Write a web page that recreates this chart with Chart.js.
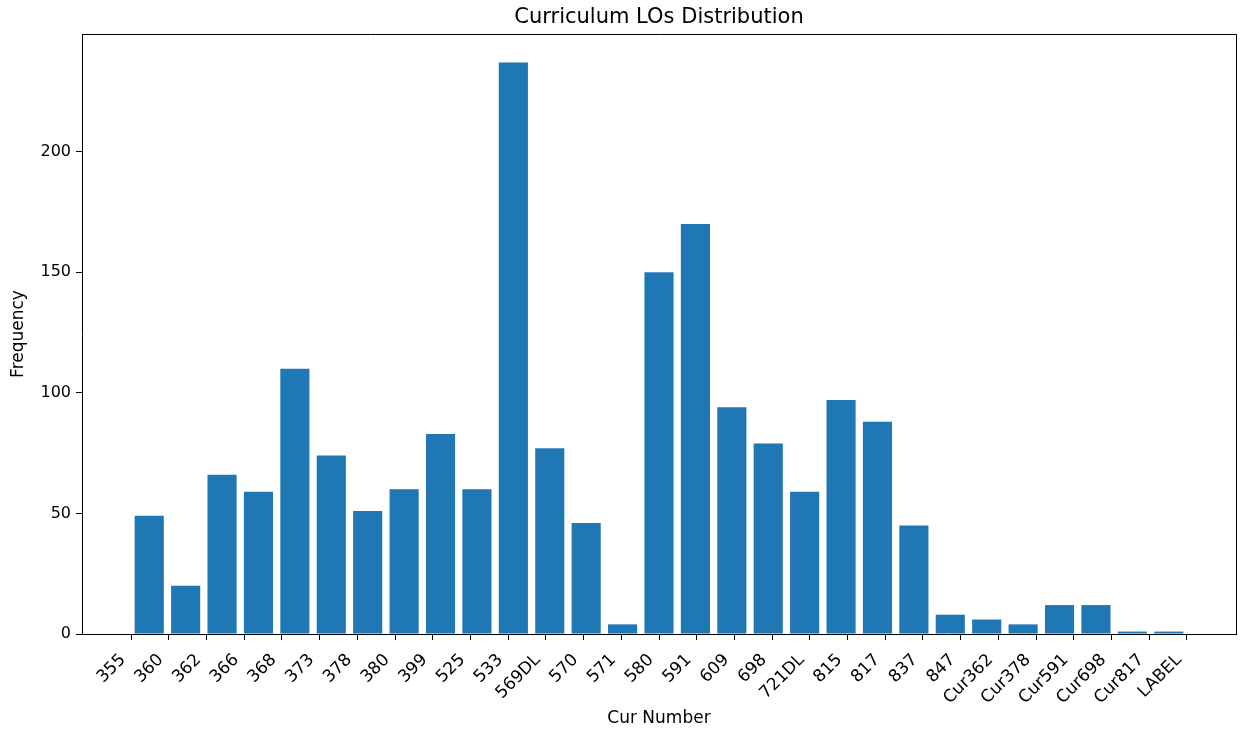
<!DOCTYPE html>
<html>
<head>
<meta charset="utf-8">
<script src="https://cdn.jsdelivr.net/npm/chart.js@4"></script>
<style>
  html, body { margin: 0; padding: 0; background: #fff; }
  canvas { display: block; }
</style>
</head>
<body>
<canvas id="myChart" width="1241" height="729"></canvas>
<script>
// categories (tick labels) and counts per bin
var curNumbers = ['355', '360', '362', '366', '368', '373', '378', '380', '399', '525',
  '533', '569DL', '570', '571', '580', '591', '609', '698', '721DL', '815',
  '817', '837', '847', 'Cur362', 'Cur378', 'Cur591', 'Cur698', 'Cur817', 'LABEL'];
var frequency = [49, 20, 66, 59, 110, 74, 51, 60, 83, 60,
  237, 77, 46, 4, 150, 170, 94, 79, 59, 97,
  88, 45, 8, 6, 4, 12, 12, 1, 1];
var yTicks = [0, 50, 100, 150, 200];

// histogram bins: the category indices 0..n-1 split into n equal bins
var n = curNumbers.length;
var binWidth = (n - 1) / n;
var barData = [];
for (var i = 0; i < n; i++) {
  barData.push({ x: (i + 0.5) * binWidth, y: frequency[i] });
}

var font = 'DejaVu Sans';
Chart.defaults.font.family = font;
Chart.defaults.color = '#000';

// title + top/right spines
var frame = {
  id: 'frame',
  afterDraw: function (chart) {
    var c = chart.ctx, a = chart.chartArea;
    c.save();
    c.strokeStyle = '#000';
    c.lineWidth = 1;
    c.beginPath();
    c.moveTo(a.left, a.top + 0.5);
    c.lineTo(a.right + 0.5, a.top + 0.5);
    c.lineTo(a.right + 0.5, a.bottom);
    c.stroke();
    c.fillStyle = '#000';
    c.font = '21px "' + font + '"';
    c.textAlign = 'center';
    c.textBaseline = 'middle';
    c.fillText('Curriculum LOs Distribution', (a.left + a.right) / 2, 18);
    c.restore();
  }
};

var ctx = document.getElementById('myChart').getContext('2d');
var chart = new Chart(ctx, {
  type: 'bar',
  data: {
    datasets: [{
      data: barData,
      backgroundColor: '#1f77b4',
      borderWidth: 0,
      categoryPercentage: 1,
      barPercentage: 0.8
    }]
  },
  options: {
    responsive: false,
    animation: false,
    devicePixelRatio: 1,
    layout: { padding: { left: 0, top: 34, right: 5, bottom: 0 } },
    plugins: { legend: { display: false }, tooltip: { enabled: false } },
    scales: {
      x: {
        type: 'linear',
        offset: false,
        min: -1.3,
        max: n - 1 + 1.3,
        afterBuildTicks: function (scale) {
          scale.ticks = curNumbers.map(function (_, k) { return { value: k }; });
        },
        afterFit: function (scale) { scale.height = 95; },
        ticks: {
          autoSkip: false,
          minRotation: 45,
          maxRotation: 45,
          padding: 10,
          labelOffset: -8,
          font: { size: 17 },
          callback: function (v) { return curNumbers[v]; }
        },
        grid: { drawOnChartArea: false, drawTicks: true, tickLength: 6, color: '#000', offset: false },
        border: { display: true, color: '#000', width: 1 },
        title: { display: true, text: 'Cur Number', font: { size: 17 }, padding: { top: 0, bottom: 0 } }
      },
      y: {
        min: 0,
        max: 237 * 1.05,
        afterBuildTicks: function (scale) {
          scale.ticks = yTicks.map(function (v) { return { value: v }; });
        },
        afterFit: function (scale) { scale.width = 82; },
        ticks: { padding: 5, font: { size: 16 } },
        grid: { drawOnChartArea: false, drawTicks: true, tickLength: 6, color: '#000' },
        border: { display: true, color: '#000', width: 1 },
        title: { display: true, text: 'Frequency', font: { size: 17 }, padding: { top: 8, bottom: 4 } }
      }
    }
  },
  plugins: [frame]
});
</script>
</body>
</html>
